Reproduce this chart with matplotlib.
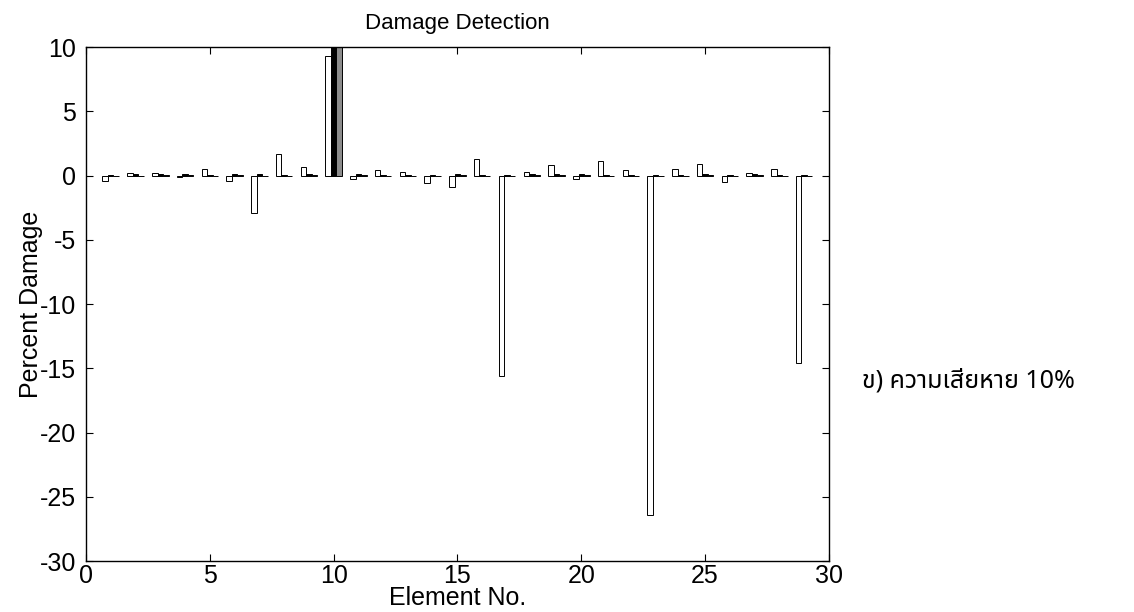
import numpy as np
import matplotlib
matplotlib.use("Agg")
import matplotlib.pyplot as plt

plt.rcParams["font.family"] = ["Liberation Sans", "DejaVu Sans"]
plt.rcParams["axes.unicode_minus"] = False

elements = np.arange(1, 30)
# three runs per element (white, black, gray)
run_white = [-0.4, 0.2, 0.2, -0.1, 0.5, -0.4, -2.9, 1.7, 0.7, 9.3,
             -0.3, 0.4, 0.3, -0.6, -0.9, 1.3, -15.6, 0.3, 0.8, -0.3,
             1.1, 0.4, -26.4, 0.5, 0.9, -0.5, 0.2, 0.5, -14.6]
run_black = [0.05, 0.1, 0.1, 0.1, 0.05, 0.1, 0.1, 0.05, 0.15, 12.0,
             0.1, 0.05, 0.05, 0.05, 0.1, 0.05, 0.05, 0.1, 0.1, 0.1,
             0.05, 0.05, 0.05, 0.05, 0.1, 0.05, 0.1, 0.05, 0.05]
run_gray = [0.0, 0.0, 0.05, 0.05, 0.0, 0.05, 0.0, 0.0, 0.05, 11.0,
            0.05, 0.0, 0.0, 0.0, 0.05, 0.0, 0.0, 0.05, 0.05, 0.05,
            0.0, 0.0, 0.0, 0.0, 0.05, 0.0, 0.05, 0.0, 0.0]

fig = plt.figure(figsize=(11.34, 6.12), dpi=100)
ax = fig.add_axes([0.0758, 0.0833, 0.6552, 0.8399])

w = 0.222
colors = ["white", "black", "#8c8c8c"]
for k, (vals, c) in enumerate(zip([run_white, run_black, run_gray], colors)):
    ax.bar(elements + (k - 1) * w, vals, width=w, color=c,
           edgecolor="black", linewidth=0.7)

ax.set_xlim(0, 30)
ax.set_ylim(-30, 10)
ax.set_xticks(range(0, 31, 5))
ax.set_yticks(range(-30, 11, 5))
ax.tick_params(direction="in", top=True, right=True, length=5,
               labelsize=18, width=0.8)
ax.tick_params(axis="x", pad=2)
ax.tick_params(axis="y", pad=7)
for s in ax.spines.values():
    s.set_linewidth(1.0)

ax.set_title("Damage Detection", fontsize=16, pad=13)
ax.set_xlabel("Element No.", fontsize=18, labelpad=-1)
ax.set_ylabel("Percent Damage", fontsize=18, labelpad=-2)

fig.text(0.760, 0.377, "ข) ความเสียหาย 10%", fontsize=18,
         family=["Noto Sans Thai", "Noto Sans", "DejaVu Sans"],
         va="center", ha="left")

fig.savefig("out.png", dpi=100)
